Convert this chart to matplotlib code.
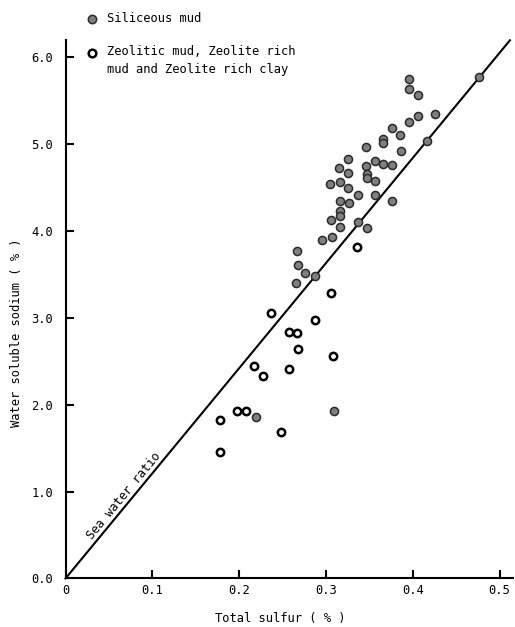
import numpy as np
import matplotlib.pyplot as plt
from matplotlib.lines import Line2D

# Water soluble sodium vs total sulfur, two sediment groups

siliceous_s = [0.476, 0.396, 0.396, 0.406, 0.426, 0.406, 0.396, 0.376, 0.385, 0.366,
               0.366, 0.416, 0.346, 0.387, 0.326, 0.357, 0.366, 0.376, 0.315, 0.346,
               0.326, 0.347, 0.347, 0.305, 0.316, 0.357, 0.326, 0.337, 0.357, 0.316,
               0.327, 0.376, 0.316, 0.316, 0.306, 0.316, 0.337, 0.347, 0.296, 0.307,
               0.267, 0.268, 0.276, 0.287, 0.266, 0.219, 0.309]
siliceous_na = [5.77, 5.75, 5.63, 5.56, 5.35, 5.32, 5.26, 5.18, 5.11, 5.06,
                5.01, 5.04, 4.97, 4.92, 4.83, 4.80, 4.77, 4.76, 4.72, 4.75,
                4.67, 4.66, 4.61, 4.54, 4.56, 4.58, 4.49, 4.42, 4.42, 4.34,
                4.32, 4.34, 4.23, 4.17, 4.13, 4.05, 4.10, 4.03, 3.90, 3.93,
                3.77, 3.61, 3.52, 3.48, 3.40, 1.86, 1.93]

zeolitic_s = [0.336, 0.306, 0.237, 0.287, 0.257, 0.267, 0.268, 0.308, 0.217, 0.258,
              0.228, 0.198, 0.208, 0.178, 0.248, 0.178]
zeolitic_na = [3.82, 3.29, 3.06, 2.97, 2.84, 2.83, 2.64, 2.56, 2.45, 2.41,
               2.33, 1.93, 1.93, 1.82, 1.69, 1.46]

sea_ratio = 12.1
line_x = [0.0, 0.512]

xticks = [0, 0.1, 0.2, 0.3, 0.4, 0.5]
xlabels = ['0', '0.1', '0.2', '0.3', '0.4', '0.5']
yticks = [0, 1, 2, 3, 4, 5, 6]
ylabels = ['0.0', '1.0', '2.0', '3.0', '4.0', '5.0', '6.0']

plt.rcParams['font.family'] = ['DejaVu Sans Mono']
FS = 8.7

fig = plt.figure(figsize=(5.15, 6.27), dpi=100)
ax = fig.add_axes([0.1272, 0.0774, 0.868, 0.859])

ax.plot(line_x, [v * sea_ratio for v in line_x], color='black', lw=1.5, clip_on=False)

ax.scatter(siliceous_s, siliceous_na, s=34, facecolor='#7f7f7f', edgecolor='#2a2a2a',
           linewidths=1.1, zorder=3, clip_on=False)
ax.scatter(zeolitic_s, zeolitic_na, s=28, facecolor='white', edgecolor='black',
           linewidths=1.8, zorder=3, clip_on=False)

ax.text(0.067, 0.95, 'Sea water ratio', rotation=50.5, rotation_mode='anchor',
        ha='center', va='center', fontsize=FS)

ax.set_xlim(0, 0.515)
ax.set_ylim(0, 6.2)
ax.set_xticks(xticks)
ax.set_xticklabels(xlabels)
ax.set_yticks(yticks)
ax.set_yticklabels(ylabels)
ax.tick_params(direction='in', length=6, width=1.5, labelsize=FS)
ax.tick_params(axis='y', pad=9)
ax.tick_params(axis='x', pad=4)
for side in ['top', 'right']:
    ax.spines[side].set_visible(False)
for side in ['left', 'bottom']:
    ax.spines[side].set_linewidth(1.5)

ax.set_xlabel('Total sulfur ( % )', fontsize=FS)
ax.xaxis.set_label_coords(0.48, -0.062)
ax.set_ylabel('Water soluble sodium ( % )', fontsize=FS)
ax.yaxis.set_label_coords(-0.095, 0.457)

# legend drawn by hand so the marker sits on the first text line
fig.add_artist(Line2D([92 / 515], [1 - 19 / 627], marker='o', ms=6, mfc='#7f7f7f',
                      mec='#2a2a2a', mew=1.1, transform=fig.transFigure))
fig.add_artist(Line2D([92 / 515], [1 - 53 / 627], marker='o', ms=5.5, mfc='white',
                      mec='black', mew=1.8, transform=fig.transFigure))
fig.text(107 / 515, 1 - 19 / 627, 'Siliceous mud', fontsize=FS, va='center')
fig.text(107 / 515, 1 - 45 / 627, 'Zeolitic mud, Zeolite rich\nmud and Zeolite rich clay',
         fontsize=FS, va='top', linespacing=1.45)

fig.savefig('out.png', dpi=100)
